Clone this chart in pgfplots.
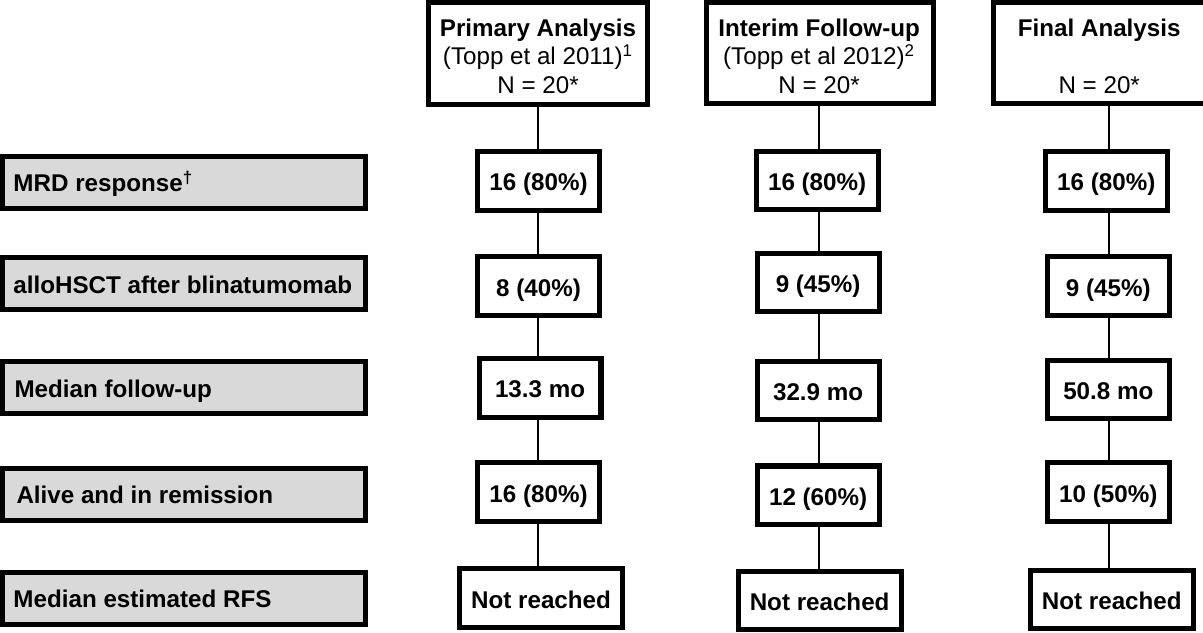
\documentclass[border=0pt]{standalone}
\usepackage{fontspec}
\setmainfont{Liberation Sans}
\usepackage{pgfplots}
\pgfplotsset{compat=1.18}
\definecolor{boxgray}{HTML}{D9D9D9}

\pgfplotsset{
  txt/.style={draw=none, mark=none, point meta=explicit symbolic, nodes near coords,
    nodes near coords style={anchor=base, inner sep=0pt, font=\fontsize{12bp}{14bp}\selectfont}},
  box/.style={draw=none, mark=none, point meta=explicit symbolic, nodes near coords,
    nodes near coords style={anchor=center, draw=black, line width=2.5bp, fill=white,
      inner sep=0pt, minimum height=29bp, text height=10bp, text depth=0pt,
      font=\bfseries\fontsize{12bp}{14bp}\selectfont}},
  hdr/.style={black, line width=2.5bp, line join=miter},
}

\begin{document}
\begin{tikzpicture}
\begin{axis}[
  scale only axis, width=601.5bp, height=316.5bp,
  xmin=0, xmax=1203, ymin=0, ymax=633, y dir=reverse,
  hide axis, clip=true,
]
% connectors
\addplot[black, line width=1bp] coordinates {(543,112) (543,569)};
\addplot[black, line width=1bp] coordinates {(822,112) (822,573)};
\addplot[black, line width=1bp] coordinates {(1110,110) (1110,571)};

% column headers
\addplot[hdr] coordinates {(434.5,9.5) (652,9.5) (652,110.5) (434.5,110.5)} -- cycle;
\addplot[hdr] coordinates {(710.5,9.5) (935.5,9.5) (935.5,110) (710.5,110)} -- cycle;
\addplot[hdr] coordinates {(995.5,9.5) (1215,9.5) (1215,110) (995.5,110)} -- cycle;

\addplot[txt, nodes near coords style={font=\bfseries\fontsize{12bp}{14bp}\selectfont}] coordinates {
  (543,43.5) [Primary Analysis]
  (822,43.5) [Interim Follow-up]
  (1100,43.5) [Final Analysis]
};
\addplot[txt] coordinates {
  (543,71.5) [(Topp et al 2011)\textsuperscript{1}]
  (822,71.5) [(Topp et al 2012)\textsuperscript{2}]
};
\addplot[txt] coordinates {
  (543,100) [N = 20*]
  (822,100) [N = 20*]
  (1100,100) [N = 20*]
};

% row labels
\addplot[draw=none, mark=none, point meta=explicit symbolic, nodes near coords,
  nodes near coords style={anchor=center, draw=black, line width=2.5bp, fill=boxgray,
    inner sep=0pt, minimum width=180bp, minimum height=25.75bp}] coordinates {
  (191.5,188) [\relax]
  (191.5,288) [\relax]
  (191.5,391.5) [\relax]
  (191.5,497.5) [\relax]
  (191.5,601) [\relax]
};
\addplot[txt, nodes near coords style={anchor=base west, font=\bfseries\fontsize{12bp}{14bp}\selectfont}] coordinates {
  (22,197.5) [MRD response\textsuperscript{†}]
  (22,298.5) [alloHSCT after blinatumomab]
  (23,402) [Median follow-up]
  (25,507) [Alive and in remission]
  (22,609.5) [Median estimated RFS]
};

% results, rows 1-4
\addplot[box, nodes near coords style={minimum width=60.5bp}] coordinates {
  (543.5,186.5) [16 (80\%)]
  (543.5,291) [8 (40\%)]
  (545,392) [13.3 mo]
  (543.5,495.5) [16 (80\%)]
  (820,186) [16 (80\%)]
  (821,287.5) [9 (45\%)]
  (821,394.5) [32.9 mo]
  (821,498.5) [12 (60\%)]
  (1107,186.5) [16 (80\%)]
  (1109,291) [9 (45\%)]
  (1109,393.5) [50.8 mo]
  (1109,495.5) [10 (50\%)]
};
% results, row 5
\addplot[box, nodes near coords style={minimum width=81bp}] coordinates {
  (546,600.5) [Not reached]
  (822.5,603) [Not reached]
  (1112.5,602) [Not reached]
};
\end{axis}
\end{tikzpicture}
\end{document}
